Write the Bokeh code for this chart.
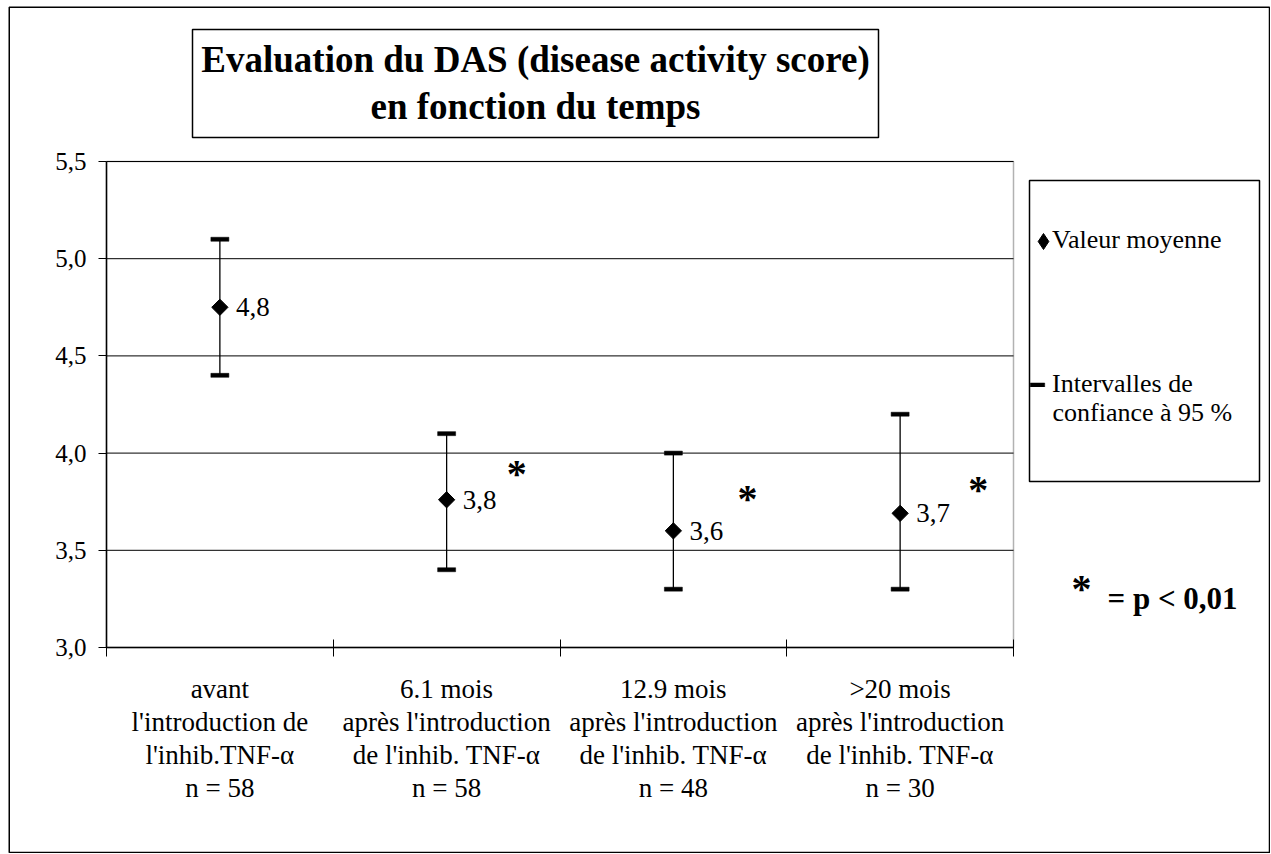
import math
from bokeh.plotting import figure
from bokeh.models import (FixedTicker, Label, BoxAnnotation, Legend, LegendItem,
                          ColumnDataSource, Range1d, CustomJSTickFormatter)
from bokeh.embed import file_html
from bokeh.resources import INLINE
from bokeh.core.properties import value

# ---------------- data ----------------
categories = [
    "avant\nl'introduction de\nl'inhib.TNF-α\nn = 58",
    "6.1 mois\naprès l'introduction\nde l'inhib. TNF-α\nn = 58",
    "12.9 mois\naprès l'introduction\nde l'inhib. TNF-α\nn = 48",
    ">20 mois\naprès l'introduction\nde l'inhib. TNF-α\nn = 30",
]
mean_values = [4.75, 3.76, 3.60, 3.69]
mean_labels = ["4,8", "3,8", "3,6", "3,7"]
ci_upper = [5.1, 4.1, 4.0, 4.2]
ci_lower = [4.4, 3.4, 3.3, 3.3]
significant = [False, True, True, True]
y_ticks = [3.0, 3.5, 4.0, 4.5, 5.0, 5.5]

title_lines = ["Evaluation du DAS (disease activity score)", "en fonction du temps"]
legend_mean = "Valeur moyenne"
legend_ci = ["Intervalles de", "confiance à 95 %"]
sig_note = "= p < 0,01"

# ---------------- layout ----------------
W, H = 1270, 853
FL, FR, FT, FB = 106, 1013, 161, 647   # plot-area edges in canvas px
SXU = (FR - FL) / 4.0                  # px per x unit
SYU = (FB - FT) / 2.5                  # px per y unit
SERIF = "Liberation Serif"

def px2x(px):
    return (px - FL) / SXU

def px2y(py):
    return 3.0 + (FB - py) / SYU

p = figure(width=W, height=H, output_backend="svg", toolbar_location=None,
           x_range=Range1d(px2x(0), px2x(W)), y_range=Range1d(px2y(H), px2y(0)),
           min_border=0, min_border_left=0, min_border_right=0,
           min_border_top=0, min_border_bottom=0)
p.background_fill_color = "white"
p.border_fill_color = "white"
p.outline_line_color = None

# y axis (placed at x = 0)
p.yaxis.fixed_location = 0
p.yaxis.bounds = (y_ticks[0], y_ticks[-1])
p.yaxis.ticker = FixedTicker(ticks=y_ticks)
p.yaxis.formatter = CustomJSTickFormatter(code="return tick.toFixed(1).replace('.', ',');")
p.yaxis.major_tick_in = 0
p.yaxis.major_tick_out = 8
p.yaxis.minor_tick_line_color = None
p.yaxis.major_tick_line_color = "black"
p.yaxis.axis_line_color = "black"
p.yaxis.axis_line_width = 1.5
p.yaxis.major_label_text_font = SERIF
p.yaxis.major_label_text_font_size = "25px"
p.yaxis.major_label_text_color = "black"
p.yaxis.major_label_standoff = 12

# x axis (placed at y = 3.0)
p.xaxis.fixed_location = y_ticks[0]
p.xaxis.bounds = (0, len(categories))
p.xaxis.ticker = FixedTicker(ticks=[i + 0.5 for i in range(len(categories))],
                             minor_ticks=list(range(len(categories) + 1)))
p.xaxis.formatter = CustomJSTickFormatter(args=dict(labels=categories),
                                          code="return labels[Math.floor(tick)];")
p.xaxis.major_tick_line_color = None
p.xaxis.major_tick_in = 0
p.xaxis.major_tick_out = 0
p.xaxis.minor_tick_line_color = "black"
p.xaxis.minor_tick_in = 8
p.xaxis.minor_tick_out = 9
p.xaxis.axis_line_color = "black"
p.xaxis.axis_line_width = 1.5
p.xaxis.major_label_text_font = SERIF
p.xaxis.major_label_text_font_size = "27px"
p.xaxis.major_label_text_color = "black"
p.xaxis.major_label_text_line_height = 1.1
p.xaxis.major_label_standoff = 17

p.xgrid.visible = False
p.ygrid.visible = False

# horizontal grid lines across the plot area
p.segment(x0=[0] * len(y_ticks), y0=y_ticks, x1=[len(categories)] * len(y_ticks), y1=y_ticks,
          line_color="black", line_width=1)

# ---------------- boxes ----------------
def box(l, t, r, b, lw=1.5):
    return BoxAnnotation(left=px2x(l), right=px2x(r), top=px2y(t), bottom=px2y(b),
                         fill_color=None, fill_alpha=0, line_color="black", line_width=lw,
                         line_alpha=1.0)

p.add_layout(BoxAnnotation(left=0, right=len(categories), bottom=y_ticks[0], top=y_ticks[-1],
                           fill_color=None, fill_alpha=0, line_color="black", line_width=1.5))
p.add_layout(box(8.75, 6.75, 1269, 852))
p.add_layout(box(192, 29, 878, 137))
p.add_layout(box(1029, 180, 1259, 481))

# ---------------- marks ----------------
xs = [i + 0.5 for i in range(len(categories))]
src = ColumnDataSource(dict(x=xs, mean=mean_values, up=ci_upper, lo=ci_lower, lab=mean_labels))

bar_r = p.segment(x0="x", y0="lo", x1="x", y1="up", source=src, line_color="black",
                  line_width=1.3, line_cap="butt")
cap_src = ColumnDataSource(dict(x=xs + xs, y=ci_upper + ci_lower))
cap_r = p.rect(x="x", y="y", width=18, height=4, width_units="screen", height_units="screen",
               source=cap_src, fill_color="black", line_color="black", line_width=0.5)
dia_r = p.scatter(x="x", y="mean", source=src, marker="square", angle=math.pi / 4, size=11.5,
                  fill_color="black", line_color="black")
# legend key for the mean (legend keys are drawn without rotation, so use a diamond marker)
dia_key = p.scatter(x="x", y="mean", source=src, marker="diamond", size=16,
                    fill_color="black", line_color="black", visible=False)
p.text(x="x", y="mean", text="lab", source=src, x_offset=16, text_baseline="middle",
       text_align="left", text_font=value(SERIF), text_font_size="27px", text_color="black")

# significance asterisks (offsets in screen px from each mean point)
sig_dx = [70, 74, 78]
sig_dy = [-29, -35, -27]
sx = [xs[i] for i in range(len(xs)) if significant[i]]
sy = [mean_values[i] for i in range(len(xs)) if significant[i]]
ast_src = ColumnDataSource(dict(x=sx, y=sy, xo=sig_dx, yo=[d + 3 for d in sig_dy],
                                t=["*"] * len(sx)))
p.text(x="x", y="y", text="t", source=ast_src, x_offset="xo", y_offset="yo",
       text_align="center", text_baseline="alphabetic", text_font=value(SERIF),
       text_font_style="bold", text_font_size="40px", text_color="black")

# title
for txt, mid in zip(title_lines, [59, 106]):
    p.add_layout(Label(x=px2x(535), y=px2y(mid), text=txt, text_align="center",
                       text_baseline="middle", text_font=SERIF, text_font_style="bold",
                       text_font_size="37px", text_color="black"))

# legend: key symbol and its text as two aligned legends
common = dict(padding=0, margin=0, spacing=0, label_height=28,
              label_text_font=SERIF, label_text_font_size="26px", label_text_color="black",
              inactive_fill_alpha=0, border_line_alpha=0, background_fill_alpha=0)
leg_key = Legend(items=[LegendItem(label="", renderers=[dia_key])],
                 location=(1023, H - 261), glyph_width=40, glyph_height=40,
                 label_standoff=0, label_width=0, **common)
leg_txt = Legend(items=[LegendItem(label=legend_mean, renderers=[bar_r])],
                 location=(1052, H - 255), glyph_width=0, glyph_height=28,
                 label_standoff=0, **common)
leg2 = Legend(items=[LegendItem(label=legend_ci[0], renderers=[cap_r])],
              location=(1028, H - 399), glyph_width=18, glyph_height=5,
              label_standoff=6, **common)
p.add_layout(leg_key)
p.add_layout(leg_txt)
p.add_layout(leg2)
p.add_layout(Label(x=px2x(1052), y=px2y(412), text=legend_ci[1], text_align="left",
                   text_baseline="middle", text_font=SERIF, text_font_size="26px",
                   text_color="black"))

# significance note
p.add_layout(Label(x=px2x(1081), y=px2y(588), text="*", text_align="center",
                   text_baseline="alphabetic", text_font=SERIF, text_font_style="bold",
                   text_font_size="40px", text_color="black"))
p.add_layout(Label(x=px2x(1107), y=px2y(598), text=sig_note, text_align="left",
                   text_baseline="middle", text_font=SERIF, text_font_style="bold",
                   text_font_size="31px", text_color="black"))

open("out.html", "w").write(file_html(p, INLINE))
